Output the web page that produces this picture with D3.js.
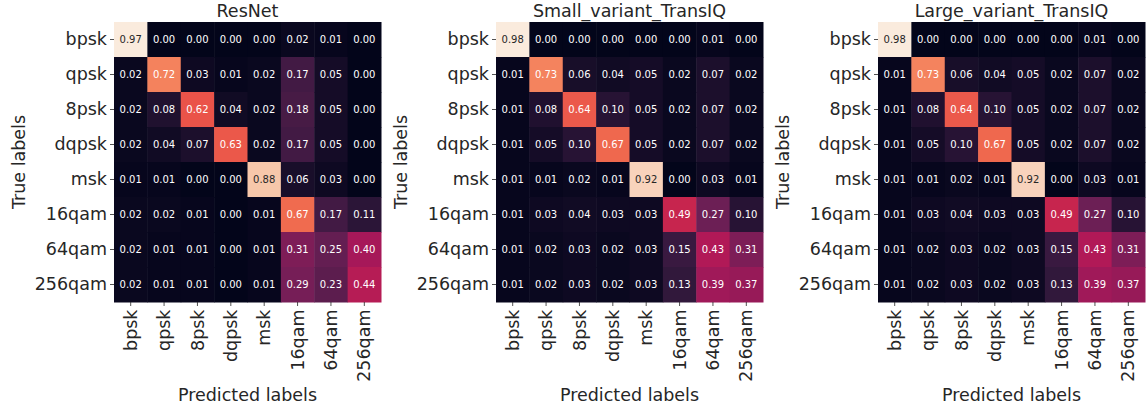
<!DOCTYPE html>
<html>
<head>
<meta charset="utf-8">
<script src="https://cdn.jsdelivr.net/npm/d3@7"></script>
<style>
  body { margin: 0; background: #fff; }
  svg { font-family: "DejaVu Sans", sans-serif; }
</style>
</head>
<body>
<div id="chart"></div>
<script>
// class labels (rows = true, columns = predicted)
var labels = ["bpsk", "qpsk", "8psk", "dqpsk", "msk", "16qam", "64qam", "256qam"];

var resnetVals = [
    [0.97, 0.00, 0.00, 0.00, 0.00, 0.02, 0.01, 0.00],
    [0.02, 0.72, 0.03, 0.01, 0.02, 0.17, 0.05, 0.00],
    [0.02, 0.08, 0.62, 0.04, 0.02, 0.18, 0.05, 0.00],
    [0.02, 0.04, 0.07, 0.63, 0.02, 0.17, 0.05, 0.00],
    [0.01, 0.01, 0.00, 0.00, 0.88, 0.06, 0.03, 0.00],
    [0.02, 0.02, 0.01, 0.00, 0.01, 0.67, 0.17, 0.11],
    [0.02, 0.01, 0.01, 0.00, 0.01, 0.31, 0.25, 0.40],
    [0.02, 0.01, 0.01, 0.00, 0.01, 0.29, 0.23, 0.44]
];

var smallVals = [
    [0.98, 0.00, 0.00, 0.00, 0.00, 0.00, 0.01, 0.00],
    [0.01, 0.73, 0.06, 0.04, 0.05, 0.02, 0.07, 0.02],
    [0.01, 0.08, 0.64, 0.10, 0.05, 0.02, 0.07, 0.02],
    [0.01, 0.05, 0.10, 0.67, 0.05, 0.02, 0.07, 0.02],
    [0.01, 0.01, 0.02, 0.01, 0.92, 0.00, 0.03, 0.01],
    [0.01, 0.03, 0.04, 0.03, 0.03, 0.49, 0.27, 0.10],
    [0.01, 0.02, 0.03, 0.02, 0.03, 0.15, 0.43, 0.31],
    [0.01, 0.02, 0.03, 0.02, 0.03, 0.13, 0.39, 0.37]
];

var largeVals = [
    [0.98, 0.00, 0.00, 0.00, 0.00, 0.00, 0.01, 0.00],
    [0.01, 0.73, 0.06, 0.04, 0.05, 0.02, 0.07, 0.02],
    [0.01, 0.08, 0.64, 0.10, 0.05, 0.02, 0.07, 0.02],
    [0.01, 0.05, 0.10, 0.67, 0.05, 0.02, 0.07, 0.02],
    [0.01, 0.01, 0.02, 0.01, 0.92, 0.00, 0.03, 0.01],
    [0.01, 0.03, 0.04, 0.03, 0.03, 0.49, 0.27, 0.10],
    [0.01, 0.02, 0.03, 0.02, 0.03, 0.15, 0.43, 0.31],
    [0.01, 0.02, 0.03, 0.02, 0.03, 0.13, 0.39, 0.37]
];

var titles = ["ResNet", "Small_variant_TransIQ", "Large_variant_TransIQ"];
var matrices = [resnetVals, smallVals, largeVals];

// seaborn "rocket" colormap, sampled
var rocketStops = ["#03051a", "#35193e", "#701f57", "#ad1759", "#e13342", "#f37651", "#f6b48f", "#faebdd"];
var rocket = d3.piecewise(d3.interpolateRgb, rocketStops);

var W = 1146, H = 410;
var panelLeft = [114, 496, 878];
var pw = 267, topY = 22, ph = 280;
var fontBig = 17.5;
var ink = "#262626";

var svg = d3.select("#chart").append("svg")
    .attr("width", W)
    .attr("height", H);

function luminance(c) {
    var rgb = d3.rgb(c);
    function f(v) { v = v / 255; return v <= 0.03928 ? v / 12.92 : Math.pow((v + 0.055) / 1.055, 2.4); }
    return 0.2126 * f(rgb.r) + 0.7152 * f(rgb.g) + 0.0722 * f(rgb.b);
}

matrices.forEach(function(m, k) {
    var g = svg.append("g")
        .attr("transform", "translate(" + panelLeft[k] + "," + topY + ")");

    var x = d3.scaleBand().domain(labels).range([0, pw]);
    var y = d3.scaleBand().domain(labels).range([0, ph]);

    var flat = [];
    m.forEach(function(row, i) {
        row.forEach(function(v, j) {
            flat.push({ r: labels[i], c: labels[j], v: v });
        });
    });

    var color = d3.scaleSequential(rocket)
        .domain(d3.extent(flat, function(d) { return d.v; }));

    g.selectAll("rect.cell")
        .data(flat)
        .enter().append("rect")
        .attr("class", "cell")
        .attr("x", function(d) { return x(d.c); })
        .attr("y", function(d) { return y(d.r); })
        .attr("width", x.bandwidth() + 0.5)
        .attr("height", y.bandwidth() + 0.5)
        .attr("fill", function(d) { return color(d.v); });

    g.selectAll("text.annot")
        .data(flat)
        .enter().append("text")
        .attr("class", "annot")
        .attr("x", function(d) { return x(d.c) + x.bandwidth() / 2; })
        .attr("y", function(d) { return y(d.r) + y.bandwidth() / 2; })
        .attr("dy", "0.35em")
        .attr("text-anchor", "middle")
        .style("font-size", "10px")
        .attr("fill", function(d) { return luminance(color(d.v)) > 0.408 ? ink : "#ffffff"; })
        .text(function(d) { return d.v.toFixed(2); });

    // axes
    var yAxis = g.append("g")
        .call(d3.axisLeft(y).tickSize(4).tickPadding(3));
    var xAxis = g.append("g")
        .attr("transform", "translate(0," + ph + ")")
        .call(d3.axisBottom(x).tickSize(4).tickPadding(3));

    [xAxis, yAxis].forEach(function(a) {
        a.attr("font-family", null).attr("font-size", null);
        a.select(".domain").remove();
        a.selectAll(".tick line").attr("stroke", ink).attr("stroke-width", 0.8);
        a.selectAll(".tick text")
            .attr("fill", ink)
            .style("font-size", fontBig + "px");
    });

    xAxis.selectAll(".tick text")
        .attr("transform", "rotate(-90)")
        .attr("x", -7.5)
        .attr("y", 0)
        .attr("dy", "0.35em")
        .attr("text-anchor", "end");

    g.append("text")
        .attr("x", pw / 2)
        .attr("y", -5)
        .attr("text-anchor", "middle")
        .attr("fill", ink)
        .style("font-size", fontBig + "px")
        .text(titles[k]);

    g.append("text")
        .attr("transform", "translate(-89," + (ph / 2) + ") rotate(-90)")
        .attr("text-anchor", "middle")
        .attr("fill", ink)
        .style("font-size", fontBig + "px")
        .text("True labels");

    g.append("text")
        .attr("x", pw / 2)
        .attr("y", H - topY - 9)
        .attr("text-anchor", "middle")
        .attr("fill", ink)
        .style("font-size", fontBig + "px")
        .text("Predicted labels");
});
</script>
</body>
</html>
